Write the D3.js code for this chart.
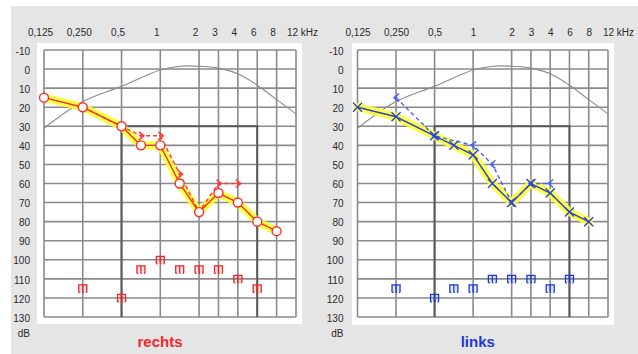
<!DOCTYPE html>
<html><head><meta charset="utf-8">
<script src="https://cdn.jsdelivr.net/npm/d3@7"></script>
<style>
html,body{margin:0;padding:0;background:#fff;}
svg{display:block;font-family:"Liberation Sans",Arial,sans-serif;}
</style>
</head><body>
<svg id="chart" width="638" height="354"></svg>
<script>
// Frequency axis (kHz) and level axis (dB HL)
const freqTicks = [0.125, 0.25, 0.5, 1, 2, 3, 4, 6, 8, 12];
const freqTickLabels = ["0,125", "0,250", "0,5", "1", "2", "3", "4", "6", "8", "12 kHz"];
const freqSlots = [0, 2, 4, 6, 8, 9, 10, 11, 12, 13];
const dbTicks = d3.range(-10, 131, 10);

// Reference curve drawn on both audiograms
const refFreqs = [0.125, 0.25, 0.5, 1, 1.5, 2, 3, 4, 6, 8, 12];
const refDb = [31, 17, 9, 0.5, -1.5, -1.5, -0.5, 2.5, 8.5, 16, 23.5];

// Masking frame
const maskFreqs = [0.5, 6];
const maskDb = [30, 130];

// Right ear (rechts)
const rightAirFreqs = [0.125, 0.25, 0.5, 0.75, 1, 1.5, 2, 3, 4, 6, 8];
const rightAirDb = [15, 20, 30, 40, 40, 60, 75, 65, 70, 80, 85];
const rightBoneFreqs = [0.25, 0.5, 0.75, 1, 1.5, 2, 3, 4];
const rightBoneDb = [20, 30, 35, 35, 55, 75, 60, 60];
const rightUclFreqs = [0.25, 0.5, 0.75, 1, 1.5, 2, 3, 4, 6];
const rightUclDb = [115, 120, 105, 100, 105, 105, 105, 110, 115];

// Left ear (links)
const leftAirFreqs = [0.125, 0.25, 0.5, 0.75, 1, 1.5, 2, 3, 4, 6, 8];
const leftAirDb = [20, 25, 35, 40, 45, 60, 70, 60, 65, 75, 80];
const leftBoneFreqs = [0.25, 0.5, 1, 1.5, 2, 3, 4];
const leftBoneDb = [15, 35, 40, 50, 70, 60, 60];
const leftUclFreqs = [0.25, 0.5, 0.75, 1, 1.5, 2, 3, 4, 6];
const leftUclDb = [115, 120, 115, 115, 110, 110, 110, 115, 110];

const svg = d3.select("#chart");

// page background
svg.append("rect").attr("x", 11).attr("y", 6).attr("width", 627).attr("height", 348).attr("fill", "#e5e5e5");

const panels = [
  {
    title: "rechts", color: "#f0262b", lineColor: "#ff2a2a", dashColor: "#ff3a3a",
    box: [37, 43, 302, 324], gx: [44, 296], labelShift: -4,
    air: [rightAirFreqs, rightAirDb], bone: [rightBoneFreqs, rightBoneDb], ucl: [rightUclFreqs, rightUclDb],
    airMark: "circle", boneMark: "gt"
  },
  {
    title: "links", color: "#2038d8", lineColor: "#2c44d4", dashColor: "#4a66f0",
    box: [352, 43, 614, 325], gx: [357.5, 608], labelShift: 0,
    air: [leftAirFreqs, leftAirDb], bone: [leftBoneFreqs, leftBoneDb], ucl: [leftUclFreqs, leftUclDb],
    airMark: "cross", boneMark: "lt"
  }
];

const y = d3.scaleLinear().domain([-10, 130]).range([50, 317]);

panels.forEach(p => {
  const [x0, x1] = p.gx;
  const x = d3.scaleLinear().domain(freqTicks).range(freqSlots.map(s => x0 + s * (x1 - x0) / 13));
  const g = svg.append("g");

  g.append("rect").attr("x", p.box[0]).attr("y", p.box[1])
    .attr("width", p.box[2] - p.box[0]).attr("height", p.box[3] - p.box[1]).attr("fill", "#fff");

  // grid
  g.append("g").selectAll("line").data(dbTicks).join("line")
    .attr("x1", x0).attr("x2", x1).attr("y1", d => y(d)).attr("y2", d => y(d))
    .attr("stroke", "#8a8a8a").attr("stroke-width", 1.6);
  g.append("g").selectAll("line").data(freqTicks).join("line")
    .attr("x1", d => x(d)).attr("x2", d => x(d)).attr("y1", y(-10)).attr("y2", y(130))
    .attr("stroke", "#8a8a8a").attr("stroke-width", 1.6);

  // masking frame
  g.append("path")
    .attr("d", `M${x(maskFreqs[0])},${y(maskDb[1])}V${y(maskDb[0])}H${x(maskFreqs[1])}V${y(maskDb[1])}`)
    .attr("fill", "none").attr("stroke", "#585858").attr("stroke-width", 2);

  // axis labels
  const xAxis = d3.axisTop(x).tickValues(freqTicks).tickFormat((d, i) => freqTickLabels[i]).tickSize(0).tickPadding(0);
  const ax = g.append("g").attr("transform", "translate(0,36)").call(xAxis);
  ax.select(".domain").remove();
  ax.selectAll("text").attr("font-size", 10).attr("fill", "#2a2a2a").attr("font-family", "Liberation Sans, Arial, sans-serif")
    .attr("dy", 0).attr("dx", (d, i) => i === freqTicks.length - 1 ? 10 + p.labelShift : p.labelShift);

  const yAxis = d3.axisLeft(y).tickValues(dbTicks).tickFormat(d => String(d)).tickSize(0).tickPadding(0);
  const ay = g.append("g").attr("transform", `translate(${x0 - 14},1)`).call(yAxis);
  ay.select(".domain").remove();
  ay.selectAll("text").attr("font-size", 10).attr("fill", "#2a2a2a").attr("font-family", "Liberation Sans, Arial, sans-serif");

  g.append("text").attr("x", x0 - 14).attr("y", 337).attr("text-anchor", "end")
    .attr("font-size", 10).attr("fill", "#2a2a2a").text("dB");

  // reference curve
  g.append("path").datum(refFreqs.map((f, i) => [f, refDb[i]]))
    .attr("d", d3.line().x(d => x(d[0])).y(d => y(d[1])).curve(d3.curveCatmullRom))
    .attr("fill", "none").attr("stroke", "#8a8a8a").attr("stroke-width", 1.1);

  // UCL markers
  const ucl = p.ucl[0].map((f, i) => [f, p.ucl[1][i]]);
  const um = g.append("g").selectAll("g").data(ucl).join("g")
    .attr("transform", d => `translate(${x(d[0])},${y(d[1])})`);
  um.append("rect").attr("x", -4.5).attr("y", -4).attr("width", 9).attr("height", 8)
    .attr("fill", p.color).attr("opacity", 0.12);
  um.append("path").attr("d", "M-4,4V-3.5H4V4M0,-3.5V4M-4,4h1.5M0,4h1M3,4h1")
    .attr("fill", "none").attr("stroke", p.color).attr("stroke-width", 1.3);

  // highlight under air conduction
  const air = p.air[0].map((f, i) => [f, p.air[1][i]]);
  const line = d3.line().x(d => x(d[0])).y(d => y(d[1]));
  g.append("path").datum(air).attr("d", line)
    .attr("fill", "none").attr("stroke", "#ffff30").attr("stroke-width", 8)
    .attr("stroke-linejoin", "round").attr("stroke-linecap", "round").attr("opacity", 0.9);

  // bone conduction
  const bone = p.bone[0].map((f, i) => [f, p.bone[1][i]]);
  g.append("path").datum(bone).attr("d", line)
    .attr("fill", "none").attr("stroke", p.dashColor).attr("stroke-width", 1.4).attr("stroke-dasharray", "4,3");
  const bm = g.append("g").selectAll("g").data(bone).join("g")
    .attr("transform", d => `translate(${x(d[0])},${y(d[1])})`);
  bm.append("path")
    .attr("d", p.boneMark === "gt" ? "M-2,-4L3,0L-2,4" : "M3,-4L-2,0L3,4")
    .attr("fill", "none").attr("stroke", p.dashColor).attr("stroke-width", 1.5);
  bm.append("circle").attr("r", 1.4).attr("fill", p.dashColor);

  // air conduction
  g.append("path").datum(air).attr("d", line)
    .attr("fill", "none").attr("stroke", p.lineColor).attr("stroke-width", 1.4);
  const am = g.append("g").selectAll("g").data(air).join("g")
    .attr("transform", d => `translate(${x(d[0])},${y(d[1])})`);
  if (p.airMark === "circle") {
    am.append("circle").attr("r", 4.5).attr("fill", "#fff").attr("stroke", p.lineColor).attr("stroke-width", 1.4);
  } else {
    am.append("path").attr("d", "M-4.5,-4.5L4.5,4.5M-4.5,4.5L4.5,-4.5")
      .attr("fill", "none").attr("stroke", p.lineColor).attr("stroke-width", 1.4);
  }

  // ear title
  g.append("text").attr("x", (x0 + x1) / 2 + (p.title === "rechts" ? -10 : -5)).attr("y", 347)
    .attr("text-anchor", "middle").attr("font-size", 15).attr("font-weight", "bold")
    .attr("fill", p.color).text(p.title);
});
</script>
</body></html>
